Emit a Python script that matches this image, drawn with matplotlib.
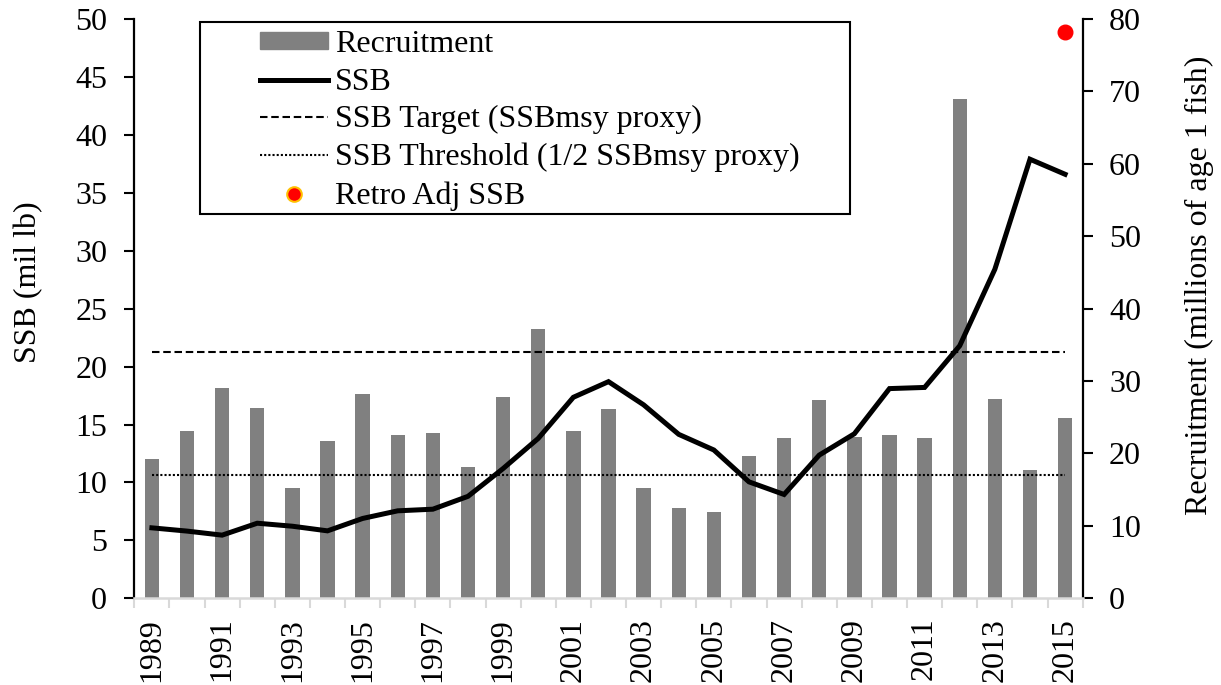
import numpy as np
import matplotlib
matplotlib.use("Agg")
import matplotlib.pyplot as plt
from matplotlib.lines import Line2D
from matplotlib.patches import Patch, Rectangle

plt.rcParams['font.family'] = ['Liberation Serif', 'DejaVu Serif']

# data
years = list(range(1989, 2016))
recruitment = [19.2, 23.1, 29.1, 26.3, 15.2, 21.7, 28.2, 22.5, 22.8, 18.1,
               27.8, 37.2, 23.1, 26.2, 15.3, 12.4, 11.9, 19.7, 22.1, 27.4,
               22.3, 22.5, 22.1, 68.9, 27.5, 17.7, 24.9]
ssb = [6.08, 5.8, 5.45, 6.48, 6.22, 5.82, 6.89, 7.55, 7.69, 8.8,
       11.2, 13.8, 17.35, 18.7, 16.7, 14.15, 12.8, 10.05, 8.96, 12.36,
       14.2, 18.1, 18.2, 21.8, 28.4, 37.9, 36.6]
ssb_target = 21.3
ssb_threshold = 10.65
retro_year = 2015
retro_ssb = 48.9

fs = 23
fig = plt.figure(figsize=(12.21, 6.85), dpi=100)
ax = fig.add_axes([0.110, 0.1266, 0.7767, 0.8456])
ax_r = ax.twinx()

# bars on the right axis, kept behind the SSB axes
ax_r.bar(years, recruitment, width=0.41, color='#808080', zorder=2)
ax.set_zorder(ax_r.get_zorder() + 1)
ax.patch.set_visible(False)

ax.plot(years, ssb, color='black', lw=3.6, solid_joinstyle='miter', zorder=4)
ax.plot([years[0], years[-1]], [ssb_target] * 2, color='black', lw=1.5,
        dashes=(3.6, 1.8), zorder=3)
ax.plot([years[0], years[-1]], [ssb_threshold] * 2, color='black', lw=1.5,
        dashes=(1, 1), zorder=3)
ax.plot([retro_year], [retro_ssb], 'o', color='red', ms=10.5, mec='red',
        zorder=5, clip_on=False)

ax.set_xlim(1988.5, 2015.5)
ax.set_ylim(0, 50)
ax_r.set_ylim(0, 80)
ax.set_yticks(np.arange(0, 51, 5))
ax_r.set_yticks(np.arange(0, 81, 10))

ax.set_xticks(years[::2])
ax.set_xticklabels([str(y) for y in years[::2]], rotation=90, fontsize=fs)
ax.set_xticks(np.arange(1988.5, 2016, 1), minor=True)
ax.tick_params(axis='x', which='major', length=0, pad=14)
ax.tick_params(axis='x', which='minor', length=7, width=1.5, color='#d9d9d9')
ax.tick_params(axis='y', labelsize=fs, length=7, width=1.5, pad=12.5)
ax_r.tick_params(axis='y', labelsize=fs, length=7, width=1.5, pad=12)
ax_r.tick_params(axis='x', bottom=False, labelbottom=False)

for a in (ax, ax_r):
    a.spines['top'].set_visible(False)
ax.spines['right'].set_visible(False)
ax.spines['left'].set_linewidth(1.6)
ax.spines['bottom'].set_color('#d9d9d9')
ax.spines['bottom'].set_linewidth(1.8)
ax_r.spines['left'].set_visible(False)
ax_r.spines['bottom'].set_visible(False)
ax_r.spines['right'].set_linewidth(1.6)

ax.set_ylabel('SSB (mil lb)', fontsize=fs)
ax.yaxis.set_label_coords(-0.0963, 0.545)
ax_r.set_ylabel('Recruitment (millions of age 1 fish)', fontsize=fs)
ax_r.yaxis.set_label_coords(1.108, 0.54)

handles = [
    Patch(color='#808080'),
    Line2D([], [], color='black', lw=3.6),
    Line2D([], [], color='black', lw=1.5, dashes=(3.6, 1.8)),
    Line2D([], [], color='black', lw=1.5, dashes=(1, 1)),
    Line2D([], [], ls='none', marker='o', color='red', mec='#ffc000',
           mew=1.5, ms=10.5),
]
labels = ['Recruitment', 'SSB', 'SSB Target (SSBmsy proxy)',
          'SSB Threshold (1/2 SSBmsy proxy)', 'Retro Adj SSB']
leg = fig.legend(handles, labels, loc='upper left',
                 bbox_to_anchor=(260 / 1221, 1 - 30 / 685), frameon=False,
                 fontsize=fs, handlelength=2.13, handleheight=0.47,
                 handletextpad=0.22, labelspacing=0.27,
                 borderaxespad=0, borderpad=0)
fig.add_artist(Rectangle((200 / 1221, 1 - 214 / 685), 650 / 1221, 192 / 685,
                         transform=fig.transFigure, fill=False,
                         edgecolor='black', lw=1.5))

fig.savefig('out.png', dpi=100)
